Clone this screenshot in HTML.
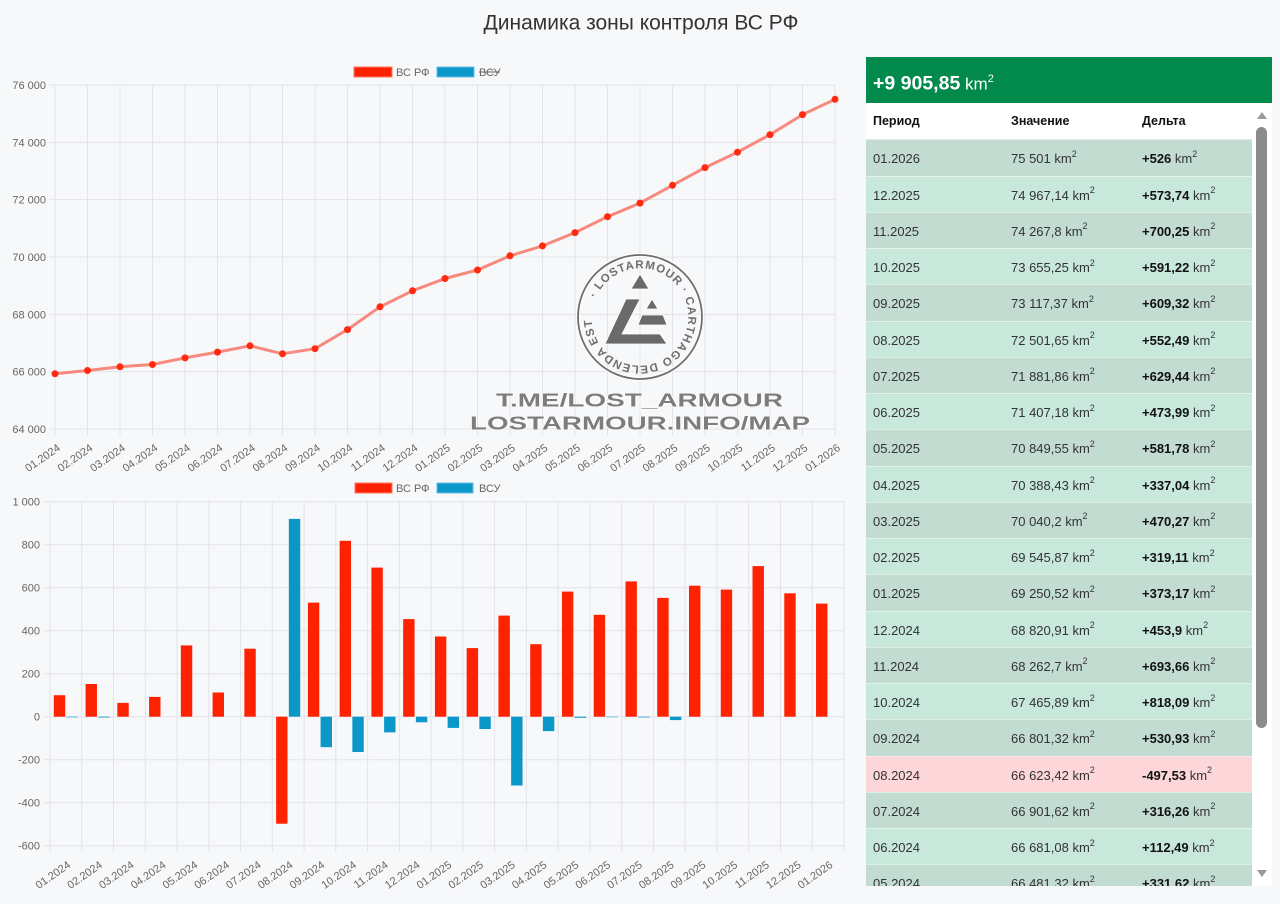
<!DOCTYPE html>
<html>
<head>
<meta charset="utf-8">
<style>
html,body{margin:0;padding:0;}
body{width:1280px;height:904px;background:#f7f8fa;position:relative;overflow:hidden;font-family:"Liberation Sans","DejaVu Sans",sans-serif;}
svg.main{position:absolute;left:0;top:0;}
.total{position:absolute;left:866px;top:57px;width:406px;height:46px;background:#018a4c;color:#fff;box-sizing:border-box;padding-left:7px;line-height:46px;font-size:17px;}
.total b{font-size:19.5px;}
.total sup{font-size:11px;position:relative;top:-1px;}
.hdr{position:absolute;left:866px;top:103px;width:386px;height:36px;background:#fff;font-weight:bold;font-size:12.5px;color:#111;}
.hdr span,.row span{position:absolute;top:0;}
.scroll{position:absolute;left:1252px;top:103px;width:20px;height:783px;background:#fff;}
.thumb{position:absolute;left:4px;top:24px;width:11px;height:601px;background:#8c8c8c;border-radius:6px;}
.up{position:absolute;left:5px;top:9px;width:0;height:0;border-left:5px solid transparent;border-right:5px solid transparent;border-bottom:7px solid #9a9a9a;}
.down{position:absolute;left:5px;top:767px;width:0;height:0;border-left:5px solid transparent;border-right:5px solid transparent;border-top:7px solid #9a9a9a;}
.rows{position:absolute;left:866px;top:139.3px;width:386px;height:746.7px;overflow:hidden;}
.row{position:relative;height:36.25px;line-height:37px;font-size:13px;color:#333;box-sizing:border-box;border-top:1px solid rgba(255,255,255,0.45);}
.row.d{background:#c3dcd2;}
.row.l{background:#c8e8db;}
.row.p{background:#fdd6d9;}
.row b{color:#111;}
.row sup{font-size:9px;line-height:0;position:relative;top:-1px;}
.c1{left:7px;}.c2{left:145px;}.c3{left:276px;}
</style>
</head>
<body>
<svg class="main" width="1280" height="904" viewBox="0 0 1280 904" xmlns="http://www.w3.org/2000/svg" font-family="Liberation Sans, DejaVu Sans, sans-serif">
<!-- Title -->
<text x="641" y="29.5" text-anchor="middle" font-size="21" fill="#333">Динамика зоны контроля ВС РФ</text>

<!-- ===== TOP CHART ===== -->
<g stroke="#e3e4e7" stroke-width="1">
<line x1="49" y1="85" x2="835" y2="85"/>
<line x1="49" y1="142.33" x2="835" y2="142.33"/>
<line x1="49" y1="199.67" x2="835" y2="199.67"/>
<line x1="49" y1="257" x2="835" y2="257"/>
<line x1="49" y1="314.33" x2="835" y2="314.33"/>
<line x1="49" y1="371.67" x2="835" y2="371.67"/>
<line x1="49" y1="429" x2="835" y2="429"/>
<line x1="55" y1="85" x2="55" y2="435"/>
<line x1="87.5" y1="85" x2="87.5" y2="435"/>
<line x1="120" y1="85" x2="120" y2="435"/>
<line x1="152.5" y1="85" x2="152.5" y2="435"/>
<line x1="185" y1="85" x2="185" y2="435"/>
<line x1="217.5" y1="85" x2="217.5" y2="435"/>
<line x1="250" y1="85" x2="250" y2="435"/>
<line x1="282.5" y1="85" x2="282.5" y2="435"/>
<line x1="315" y1="85" x2="315" y2="435"/>
<line x1="347.5" y1="85" x2="347.5" y2="435"/>
<line x1="380" y1="85" x2="380" y2="435"/>
<line x1="412.5" y1="85" x2="412.5" y2="435"/>
<line x1="445" y1="85" x2="445" y2="435"/>
<line x1="477.5" y1="85" x2="477.5" y2="435"/>
<line x1="510" y1="85" x2="510" y2="435"/>
<line x1="542.5" y1="85" x2="542.5" y2="435"/>
<line x1="575" y1="85" x2="575" y2="435"/>
<line x1="607.5" y1="85" x2="607.5" y2="435"/>
<line x1="640" y1="85" x2="640" y2="435"/>
<line x1="672.5" y1="85" x2="672.5" y2="435"/>
<line x1="705" y1="85" x2="705" y2="435"/>
<line x1="737.5" y1="85" x2="737.5" y2="435"/>
<line x1="770" y1="85" x2="770" y2="435"/>
<line x1="802.5" y1="85" x2="802.5" y2="435"/>
<line x1="835" y1="85" x2="835" y2="435"/>
</g>
<g font-size="11" fill="#666" text-anchor="end">
<text x="46" y="89">76 000</text>
<text x="46" y="146.3">74 000</text>
<text x="46" y="203.7">72 000</text>
<text x="46" y="261">70 000</text>
<text x="46" y="318.3">68 000</text>
<text x="46" y="375.7">66 000</text>
<text x="46" y="433">64 000</text>
</g>
<!-- top legend -->
<rect x="354" y="67" width="38" height="10" fill="#ff2200" stroke="#ff7766" stroke-width="1"/>
<text x="396" y="76" font-size="11" fill="#666">ВС РФ</text>
<rect x="437" y="67" width="37" height="10" fill="#0b98c9" stroke="#66bbdd" stroke-width="1"/>
<text x="479" y="76" font-size="11" fill="#666">ВСУ</text>
<line x1="479" y1="72" x2="500" y2="72" stroke="#666" stroke-width="1"/>

<!-- line -->
<polyline fill="none" stroke="#f7897e" stroke-width="3" stroke-linejoin="round" points="55,373.8 87.5,370.5 120,366.8 152.5,364.5 185,357.9 217.5,352.1 250,345.8 282.5,353.8 315,348.7 347.5,329.6 380,306.8 412.5,290.8 445,278.5 477.5,270 510,255.8 542.5,245.9 575,232.6 607.5,216.7 640,203.1 672.5,185.3 705,167.6 737.5,152.2 770,134.7 802.5,114.6 835,99.3"/>
<g fill="#ff2a10">
<circle cx="55" cy="373.8" r="3.5"/><circle cx="87.5" cy="370.5" r="3.5"/><circle cx="120" cy="366.8" r="3.5"/><circle cx="152.5" cy="364.5" r="3.5"/><circle cx="185" cy="357.9" r="3.5"/><circle cx="217.5" cy="352.1" r="3.5"/><circle cx="250" cy="345.8" r="3.5"/><circle cx="282.5" cy="353.8" r="3.5"/><circle cx="315" cy="348.7" r="3.5"/><circle cx="347.5" cy="329.6" r="3.5"/><circle cx="380" cy="306.8" r="3.5"/><circle cx="412.5" cy="290.8" r="3.5"/><circle cx="445" cy="278.5" r="3.5"/><circle cx="477.5" cy="270" r="3.5"/><circle cx="510" cy="255.8" r="3.5"/><circle cx="542.5" cy="245.9" r="3.5"/><circle cx="575" cy="232.6" r="3.5"/><circle cx="607.5" cy="216.7" r="3.5"/><circle cx="640" cy="203.1" r="3.5"/><circle cx="672.5" cy="185.3" r="3.5"/><circle cx="705" cy="167.6" r="3.5"/><circle cx="737.5" cy="152.2" r="3.5"/><circle cx="770" cy="134.7" r="3.5"/><circle cx="802.5" cy="114.6" r="3.5"/><circle cx="835" cy="99.3" r="3.5"/>
</g>
<!-- top x labels -->
<g font-size="11" fill="#666" text-anchor="end">
<text transform="translate(61,449.5) rotate(-35)">01.2024</text>
<text transform="translate(93.5,449.5) rotate(-35)">02.2024</text>
<text transform="translate(126,449.5) rotate(-35)">03.2024</text>
<text transform="translate(158.5,449.5) rotate(-35)">04.2024</text>
<text transform="translate(191,449.5) rotate(-35)">05.2024</text>
<text transform="translate(223.5,449.5) rotate(-35)">06.2024</text>
<text transform="translate(256,449.5) rotate(-35)">07.2024</text>
<text transform="translate(288.5,449.5) rotate(-35)">08.2024</text>
<text transform="translate(321,449.5) rotate(-35)">09.2024</text>
<text transform="translate(353.5,449.5) rotate(-35)">10.2024</text>
<text transform="translate(386,449.5) rotate(-35)">11.2024</text>
<text transform="translate(418.5,449.5) rotate(-35)">12.2024</text>
<text transform="translate(451,449.5) rotate(-35)">01.2025</text>
<text transform="translate(483.5,449.5) rotate(-35)">02.2025</text>
<text transform="translate(516,449.5) rotate(-35)">03.2025</text>
<text transform="translate(548.5,449.5) rotate(-35)">04.2025</text>
<text transform="translate(581,449.5) rotate(-35)">05.2025</text>
<text transform="translate(613.5,449.5) rotate(-35)">06.2025</text>
<text transform="translate(646,449.5) rotate(-35)">07.2025</text>
<text transform="translate(678.5,449.5) rotate(-35)">08.2025</text>
<text transform="translate(711,449.5) rotate(-35)">09.2025</text>
<text transform="translate(743.5,449.5) rotate(-35)">10.2025</text>
<text transform="translate(776,449.5) rotate(-35)">11.2025</text>
<text transform="translate(808.5,449.5) rotate(-35)">12.2025</text>
<text transform="translate(841,449.5) rotate(-35)">01.2026</text>
</g>

<!-- watermark -->
<g>
<circle cx="640" cy="317" r="62" fill="none" stroke="#ffffff" stroke-width="4" opacity="0.8"/>
<circle cx="640" cy="317" r="62" fill="none" stroke="#6e6e6e" stroke-width="1.8"/>
<defs><path id="circ" d="M595.82,298.25 A48,48 0 1 1 684.18,335.75 A48,48 0 1 1 595.82,298.25"/></defs>
<text font-size="11.5" font-weight="bold" fill="#6e6e6e" textLength="282" lengthAdjust="spacing"><textPath href="#circ">· LOSTARMOUR · CARTHAGO DELENDA EST</textPath></text>
<g fill="#6a6a6a" stroke="#ffffff" stroke-width="0.8">
<polygon points="640,274 631,289 649,289"/>
<polygon points="626,299 640,299 622,334 660,334 667,344 605,344"/>
<polygon points="652,299 646,309 658,309"/>
<polygon points="642,315 663,315 667,325 638,325"/>
</g>
<g font-size="18" font-weight="bold" fill="#7d7d7d" stroke="#ffffff" stroke-width="1.2" paint-order="stroke">
<text x="496" y="406.5" textLength="287" lengthAdjust="spacingAndGlyphs">T.ME/LOST_ARMOUR</text>
<text x="470" y="429.5" textLength="340" lengthAdjust="spacingAndGlyphs">LOSTARMOUR.INFO/MAP</text>
</g>
</g>

<!-- ===== BOTTOM CHART ===== -->
<g stroke="#e3e4e7" stroke-width="1">
<line x1="44" y1="501.7" x2="844" y2="501.7"/>
<line x1="44" y1="544.7" x2="844" y2="544.7"/>
<line x1="44" y1="587.7" x2="844" y2="587.7"/>
<line x1="44" y1="630.7" x2="844" y2="630.7"/>
<line x1="44" y1="673.7" x2="844" y2="673.7"/>
<line x1="44" y1="716.7" x2="844" y2="716.7"/>
<line x1="44" y1="759.7" x2="844" y2="759.7"/>
<line x1="44" y1="802.7" x2="844" y2="802.7"/>
<line x1="44" y1="845.7" x2="844" y2="845.7"/>
<line x1="50" y1="501.7" x2="50" y2="852"/>
<line x1="81.76" y1="501.7" x2="81.76" y2="852"/>
<line x1="113.52" y1="501.7" x2="113.52" y2="852"/>
<line x1="145.28" y1="501.7" x2="145.28" y2="852"/>
<line x1="177.04" y1="501.7" x2="177.04" y2="852"/>
<line x1="208.8" y1="501.7" x2="208.8" y2="852"/>
<line x1="240.56" y1="501.7" x2="240.56" y2="852"/>
<line x1="272.32" y1="501.7" x2="272.32" y2="852"/>
<line x1="304.08" y1="501.7" x2="304.08" y2="852"/>
<line x1="335.84" y1="501.7" x2="335.84" y2="852"/>
<line x1="367.6" y1="501.7" x2="367.6" y2="852"/>
<line x1="399.36" y1="501.7" x2="399.36" y2="852"/>
<line x1="431.12" y1="501.7" x2="431.12" y2="852"/>
<line x1="462.88" y1="501.7" x2="462.88" y2="852"/>
<line x1="494.64" y1="501.7" x2="494.64" y2="852"/>
<line x1="526.4" y1="501.7" x2="526.4" y2="852"/>
<line x1="558.16" y1="501.7" x2="558.16" y2="852"/>
<line x1="589.92" y1="501.7" x2="589.92" y2="852"/>
<line x1="621.68" y1="501.7" x2="621.68" y2="852"/>
<line x1="653.44" y1="501.7" x2="653.44" y2="852"/>
<line x1="685.2" y1="501.7" x2="685.2" y2="852"/>
<line x1="716.96" y1="501.7" x2="716.96" y2="852"/>
<line x1="748.72" y1="501.7" x2="748.72" y2="852"/>
<line x1="780.48" y1="501.7" x2="780.48" y2="852"/>
<line x1="812.24" y1="501.7" x2="812.24" y2="852"/>
<line x1="844" y1="501.7" x2="844" y2="852"/>
</g>
<g font-size="11" fill="#666" text-anchor="end">
<text x="40" y="505.7">1 000</text>
<text x="40" y="548.7">800</text>
<text x="40" y="591.7">600</text>
<text x="40" y="634.7">400</text>
<text x="40" y="677.7">200</text>
<text x="40" y="720.7">0</text>
<text x="40" y="763.7">-200</text>
<text x="40" y="806.7">-400</text>
<text x="40" y="849.7">-600</text>
</g>
<!-- bottom legend -->
<rect x="355" y="483" width="37" height="10" fill="#ff2200" stroke="#ff7766" stroke-width="1"/>
<text x="396" y="492" font-size="11" fill="#666">ВС РФ</text>
<rect x="437" y="483" width="36" height="10" fill="#0b98c9" stroke="#66bbdd" stroke-width="1"/>
<text x="479" y="492" font-size="11" fill="#666">ВСУ</text>

<!-- red bars -->
<g fill="#ff2200">
<rect x="53.8" y="695.2" width="11.4" height="21.5"/>
<rect x="85.56" y="684" width="11.4" height="32.7"/>
<rect x="117.32" y="702.9" width="11.4" height="13.8"/>
<rect x="149.08" y="696.9" width="11.4" height="19.8"/>
<rect x="180.84" y="645.4" width="11.4" height="71.3"/>
<rect x="212.6" y="692.5" width="11.4" height="24.2"/>
<rect x="244.36" y="648.7" width="11.4" height="68"/>
<rect x="276.12" y="716.7" width="11.4" height="107"/>
<rect x="307.88" y="602.6" width="11.4" height="114.1"/>
<rect x="339.64" y="540.8" width="11.4" height="175.9"/>
<rect x="371.4" y="567.6" width="11.4" height="149.1"/>
<rect x="403.16" y="619.1" width="11.4" height="97.6"/>
<rect x="434.92" y="636.5" width="11.4" height="80.2"/>
<rect x="466.68" y="648.1" width="11.4" height="68.6"/>
<rect x="498.44" y="615.6" width="11.4" height="101.1"/>
<rect x="530.2" y="644.2" width="11.4" height="72.5"/>
<rect x="561.96" y="591.6" width="11.4" height="125.1"/>
<rect x="593.72" y="614.8" width="11.4" height="101.9"/>
<rect x="625.48" y="581.4" width="11.4" height="135.3"/>
<rect x="657.24" y="597.9" width="11.4" height="118.8"/>
<rect x="689" y="585.7" width="11.4" height="131"/>
<rect x="720.76" y="589.6" width="11.4" height="127.1"/>
<rect x="752.52" y="566.1" width="11.4" height="150.6"/>
<rect x="784.28" y="593.3" width="11.4" height="123.4"/>
<rect x="816.04" y="603.6" width="11.4" height="113.1"/>
</g>
<!-- blue bars -->
<g fill="#0b98c9">
<rect x="66.5" y="716.7" width="11.4" height="0.6"/>
<rect x="98.26" y="716.7" width="11.4" height="0.8"/>
<rect x="288.82" y="518.9" width="11.4" height="197.8"/>
<rect x="320.58" y="716.7" width="11.4" height="30.5"/>
<rect x="352.34" y="716.7" width="11.4" height="35.3"/>
<rect x="384.1" y="716.7" width="11.4" height="15.7"/>
<rect x="415.86" y="716.7" width="11.4" height="5.6"/>
<rect x="447.62" y="716.7" width="11.4" height="11.2"/>
<rect x="479.38" y="716.7" width="11.4" height="12.3"/>
<rect x="511.14" y="716.7" width="11.4" height="68.8"/>
<rect x="542.9" y="716.7" width="11.4" height="14.4"/>
<rect x="574.66" y="716.7" width="11.4" height="1.1"/>
<rect x="606.42" y="716.7" width="11.4" height="0.5"/>
<rect x="638.18" y="716.7" width="11.4" height="0.7"/>
<rect x="669.94" y="716.7" width="11.4" height="3.4"/>
</g>
<!-- bottom x labels -->
<g font-size="11" fill="#666" text-anchor="end">
<text transform="translate(71.3,866.5) rotate(-35)">01.2024</text>
<text transform="translate(103.06,866.5) rotate(-35)">02.2024</text>
<text transform="translate(134.82,866.5) rotate(-35)">03.2024</text>
<text transform="translate(166.58,866.5) rotate(-35)">04.2024</text>
<text transform="translate(198.34,866.5) rotate(-35)">05.2024</text>
<text transform="translate(230.1,866.5) rotate(-35)">06.2024</text>
<text transform="translate(261.86,866.5) rotate(-35)">07.2024</text>
<text transform="translate(293.62,866.5) rotate(-35)">08.2024</text>
<text transform="translate(325.38,866.5) rotate(-35)">09.2024</text>
<text transform="translate(357.14,866.5) rotate(-35)">10.2024</text>
<text transform="translate(388.9,866.5) rotate(-35)">11.2024</text>
<text transform="translate(420.66,866.5) rotate(-35)">12.2024</text>
<text transform="translate(452.42,866.5) rotate(-35)">01.2025</text>
<text transform="translate(484.18,866.5) rotate(-35)">02.2025</text>
<text transform="translate(515.94,866.5) rotate(-35)">03.2025</text>
<text transform="translate(547.7,866.5) rotate(-35)">04.2025</text>
<text transform="translate(579.46,866.5) rotate(-35)">05.2025</text>
<text transform="translate(611.22,866.5) rotate(-35)">06.2025</text>
<text transform="translate(642.98,866.5) rotate(-35)">07.2025</text>
<text transform="translate(674.74,866.5) rotate(-35)">08.2025</text>
<text transform="translate(706.5,866.5) rotate(-35)">09.2025</text>
<text transform="translate(738.26,866.5) rotate(-35)">10.2025</text>
<text transform="translate(770.02,866.5) rotate(-35)">11.2025</text>
<text transform="translate(801.78,866.5) rotate(-35)">12.2025</text>
<text transform="translate(833.54,866.5) rotate(-35)">01.2026</text>
</g>
</svg>

<!-- ===== TABLE ===== -->
<div class="total"><b>+9 905,85</b> km<sup>2</sup></div>
<div class="hdr"><span class="c1" style="line-height:37px">Период</span><span class="c2" style="line-height:37px">Значение</span><span class="c3" style="line-height:37px">Дельта</span></div>
<div class="scroll"><div class="up"></div><div class="thumb"></div><div class="down"></div></div>
<div class="rows">
<div class="row d"><span class="c1">01.2026</span><span class="c2">75 501 km<sup>2</sup></span><span class="c3"><b>+526</b> km<sup>2</sup></span></div>
<div class="row l"><span class="c1">12.2025</span><span class="c2">74 967,14 km<sup>2</sup></span><span class="c3"><b>+573,74</b> km<sup>2</sup></span></div>
<div class="row d"><span class="c1">11.2025</span><span class="c2">74 267,8 km<sup>2</sup></span><span class="c3"><b>+700,25</b> km<sup>2</sup></span></div>
<div class="row l"><span class="c1">10.2025</span><span class="c2">73 655,25 km<sup>2</sup></span><span class="c3"><b>+591,22</b> km<sup>2</sup></span></div>
<div class="row d"><span class="c1">09.2025</span><span class="c2">73 117,37 km<sup>2</sup></span><span class="c3"><b>+609,32</b> km<sup>2</sup></span></div>
<div class="row l"><span class="c1">08.2025</span><span class="c2">72 501,65 km<sup>2</sup></span><span class="c3"><b>+552,49</b> km<sup>2</sup></span></div>
<div class="row d"><span class="c1">07.2025</span><span class="c2">71 881,86 km<sup>2</sup></span><span class="c3"><b>+629,44</b> km<sup>2</sup></span></div>
<div class="row l"><span class="c1">06.2025</span><span class="c2">71 407,18 km<sup>2</sup></span><span class="c3"><b>+473,99</b> km<sup>2</sup></span></div>
<div class="row d"><span class="c1">05.2025</span><span class="c2">70 849,55 km<sup>2</sup></span><span class="c3"><b>+581,78</b> km<sup>2</sup></span></div>
<div class="row l"><span class="c1">04.2025</span><span class="c2">70 388,43 km<sup>2</sup></span><span class="c3"><b>+337,04</b> km<sup>2</sup></span></div>
<div class="row d"><span class="c1">03.2025</span><span class="c2">70 040,2 km<sup>2</sup></span><span class="c3"><b>+470,27</b> km<sup>2</sup></span></div>
<div class="row l"><span class="c1">02.2025</span><span class="c2">69 545,87 km<sup>2</sup></span><span class="c3"><b>+319,11</b> km<sup>2</sup></span></div>
<div class="row d"><span class="c1">01.2025</span><span class="c2">69 250,52 km<sup>2</sup></span><span class="c3"><b>+373,17</b> km<sup>2</sup></span></div>
<div class="row l"><span class="c1">12.2024</span><span class="c2">68 820,91 km<sup>2</sup></span><span class="c3"><b>+453,9</b> km<sup>2</sup></span></div>
<div class="row d"><span class="c1">11.2024</span><span class="c2">68 262,7 km<sup>2</sup></span><span class="c3"><b>+693,66</b> km<sup>2</sup></span></div>
<div class="row l"><span class="c1">10.2024</span><span class="c2">67 465,89 km<sup>2</sup></span><span class="c3"><b>+818,09</b> km<sup>2</sup></span></div>
<div class="row d"><span class="c1">09.2024</span><span class="c2">66 801,32 km<sup>2</sup></span><span class="c3"><b>+530,93</b> km<sup>2</sup></span></div>
<div class="row p"><span class="c1">08.2024</span><span class="c2">66 623,42 km<sup>2</sup></span><span class="c3"><b>-497,53</b> km<sup>2</sup></span></div>
<div class="row d"><span class="c1">07.2024</span><span class="c2">66 901,62 km<sup>2</sup></span><span class="c3"><b>+316,26</b> km<sup>2</sup></span></div>
<div class="row l"><span class="c1">06.2024</span><span class="c2">66 681,08 km<sup>2</sup></span><span class="c3"><b>+112,49</b> km<sup>2</sup></span></div>
<div class="row d"><span class="c1">05.2024</span><span class="c2">66 481,32 km<sup>2</sup></span><span class="c3"><b>+331,62</b> km<sup>2</sup></span></div>
</div>
</body>
</html>
